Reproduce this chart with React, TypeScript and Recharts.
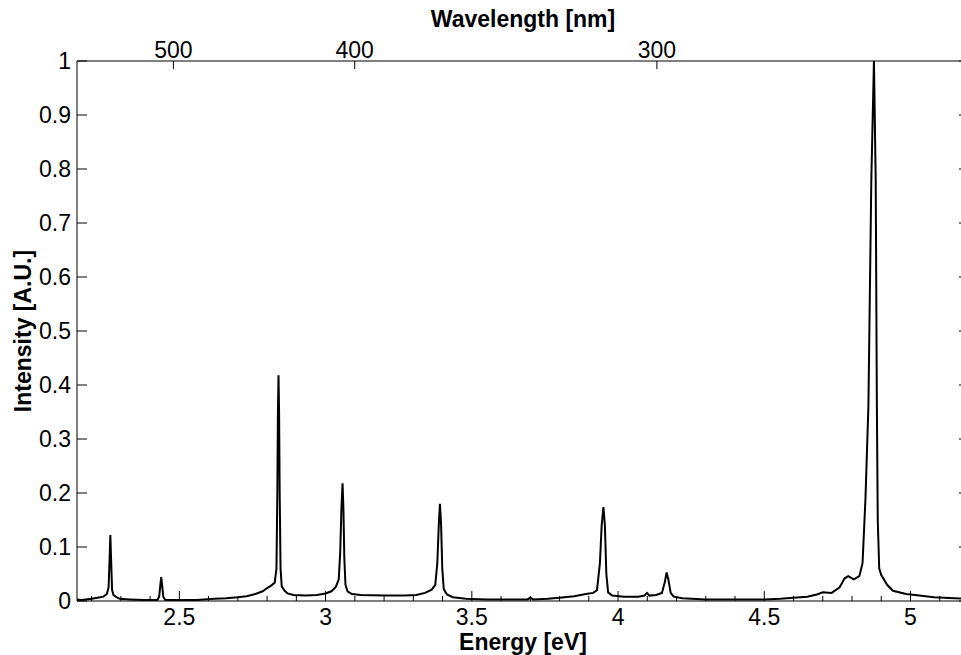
import { LineChart, Line, XAxis, YAxis } from "recharts";

// spectrum: photon energy (eV) and normalised intensity
const energy = [
  2.15, 2.165, 2.18, 2.2, 2.22, 2.24, 2.252, 2.258, 2.261, 2.264, 2.267, 2.27, 2.275, 2.285, 2.296,
  2.33, 2.38, 2.425, 2.431, 2.435, 2.438, 2.441, 2.445, 2.452, 2.5, 2.56, 2.62, 2.66, 2.7, 2.73,
  2.76, 2.785, 2.8, 2.815, 2.826, 2.832, 2.835, 2.837, 2.839, 2.841, 2.843, 2.846, 2.85, 2.86, 2.87,
  2.89, 2.93, 2.97, 3.0, 3.02, 3.035, 3.045, 3.05, 3.054, 3.058, 3.061, 3.064, 3.068, 3.075, 3.09,
  3.12, 3.2, 3.27, 3.31, 3.34, 3.363, 3.375, 3.382, 3.387, 3.391, 3.395, 3.399, 3.404, 3.415, 3.435,
  3.48, 3.55, 3.62, 3.69, 3.7, 3.71, 3.76, 3.8, 3.85, 3.89, 3.915, 3.928, 3.938, 3.944, 3.95,
  3.955, 3.96, 3.966, 3.98, 4.02, 4.07, 4.09, 4.099, 4.107, 4.13, 4.15, 4.16, 4.166, 4.172, 4.18,
  4.19, 4.22, 4.3, 4.4, 4.5, 4.555, 4.6, 4.647, 4.68, 4.7, 4.73, 4.757, 4.775, 4.787, 4.806,
  4.825, 4.836, 4.846, 4.856, 4.866, 4.875, 4.881, 4.885, 4.888, 4.893, 4.9, 4.92, 4.94, 4.985, 5.03,
  5.08, 5.15, 5.2,
];
const intensity = [
  0.003, 0.002, 0.003, 0.004, 0.006, 0.008, 0.013, 0.025, 0.07, 0.122, 0.07, 0.02, 0.011, 0.007, 0.004,
  0.003, 0.002, 0.002, 0.008, 0.03, 0.044, 0.03, 0.008, 0.002, 0.002, 0.002, 0.004, 0.005, 0.007, 0.009,
  0.013, 0.018, 0.024, 0.029, 0.034, 0.06, 0.2, 0.35, 0.418, 0.35, 0.2, 0.06, 0.027, 0.019, 0.014,
  0.011, 0.01, 0.011, 0.014, 0.018, 0.026, 0.04, 0.09, 0.17, 0.218, 0.17, 0.08, 0.03, 0.018, 0.013,
  0.011, 0.01, 0.01, 0.011, 0.015, 0.021, 0.03, 0.07, 0.14, 0.18, 0.14, 0.06, 0.022, 0.012, 0.007,
  0.004, 0.003, 0.003, 0.003, 0.006, 0.003, 0.004, 0.006, 0.009, 0.013, 0.015, 0.02, 0.07, 0.14, 0.174,
  0.14, 0.05, 0.016, 0.01, 0.008, 0.008, 0.01, 0.015, 0.01, 0.011, 0.015, 0.035, 0.053, 0.04, 0.015,
  0.008, 0.005, 0.003, 0.003, 0.003, 0.004, 0.006, 0.008, 0.012, 0.016, 0.015, 0.025, 0.042, 0.046, 0.04,
  0.046, 0.07, 0.19, 0.36, 0.78, 1.0, 0.78, 0.36, 0.15, 0.06, 0.048, 0.03, 0.019, 0.013, 0.01,
  0.007, 0.005, 0.004,
];

const energyTicks = [
  2.2, 2.3, 2.4, 2.5, 2.6, 2.7, 2.8, 2.9, 3, 3.1, 3.2, 3.3, 3.4, 3.5, 3.6, 3.7, 3.8, 3.9, 4,
  4.1, 4.2, 4.3, 4.4, 4.5, 4.6, 4.7, 4.8, 4.9, 5, 5.1,
];
const intensityTicks = [0, 0.1, 0.2, 0.3, 0.4, 0.5, 0.6, 0.7, 0.8, 0.9, 1];
const wavelengthTicks = [500, 400, 300];

const HC = 1239.84;
const E_MIN = 2.15;
const E_MAX = 5.2;

const rows = energy.map((e, i) => ({ e, i: intensity[i] }));

const FONT = "'Liberation Sans', Arial, Helvetica, sans-serif";
const SIZE = 23;

const isMajor = (v: number) => Math.abs(v * 2 - Math.round(v * 2)) < 1e-6;

function BottomTick({ x, y, payload }: any) {
  const major = isMajor(payload.value);
  return (
    <g>
      <line x1={x} y1={y} x2={x} y2={y - (major ? 10 : 5)} stroke="#000" strokeWidth={1} />
      {major && (
        <text x={x} y={y + 24} textAnchor="middle" fontFamily={FONT} fontSize={SIZE} fill="#000">
          {String(Math.round(payload.value * 10) / 10)}
        </text>
      )}
    </g>
  );
}

function TopTick({ x, y, payload }: any) {
  return (
    <g>
      <line x1={x} y1={y} x2={x} y2={y + 8} stroke="#000" strokeWidth={1} />
      <text x={x} y={y - 3} textAnchor="middle" fontFamily={FONT} fontSize={SIZE} fill="#000">
        {Math.round(HC / payload.value)}
      </text>
    </g>
  );
}

function LeftTick({ x, y, payload }: any) {
  return (
    <g>
      <line x1={x} y1={y} x2={x + 10} y2={y} stroke="#000" strokeWidth={1} />
      <text x={x - 6} y={y} dy="0.36em" textAnchor="end" fontFamily={FONT} fontSize={SIZE} fill="#000">
        {String(Math.round(payload.value * 10) / 10)}
      </text>
    </g>
  );
}

function RightTick({ x, y }: any) {
  return <line x1={x} y1={y} x2={x - 10} y2={y} stroke="#000" strokeWidth={1} />;
}

function BottomTitle({ viewBox }: any) {
  const { x, y, width } = viewBox;
  return (
    <text x={x + width / 2} y={y + 49} textAnchor="middle" fontFamily={FONT} fontSize={SIZE} fontWeight="bold" fill="#000">
      Energy [eV]
    </text>
  );
}

function TopTitle({ viewBox }: any) {
  const { x, y, width } = viewBox;
  return (
    <text x={x + width / 2} y={y + 27} textAnchor="middle" fontFamily={FONT} fontSize={SIZE} fontWeight="bold" fill="#000">
      Wavelength [nm]
    </text>
  );
}

function LeftTitle({ viewBox }: any) {
  const { x, y, height } = viewBox;
  const cx = x + 23;
  const cy = y + height / 2;
  return (
    <text
      x={cx}
      y={cy}
      dy="0.36em"
      transform={`rotate(-90 ${cx} ${cy})`}
      textAnchor="middle"
      fontFamily={FONT}
      fontSize={SIZE}
      fontWeight="bold"
      fill="#000"
    >
      Intensity [A.U.]
    </text>
  );
}

export default function App() {
  return (
    <div style={{ position: "absolute", left: 0, top: 0, width: 961, height: 655, overflow: "hidden", background: "#fff" }}>
      <LineChart width={975} height={655} data={rows} margin={{ top: 0, right: 0, bottom: 0, left: 0 }}>
        <XAxis
          xAxisId="bottom"
          type="number"
          dataKey="e"
          domain={[E_MIN, E_MAX]}
          allowDataOverflow
          ticks={energyTicks}
          interval={0}
          height={54}
          tickSize={0}
          tickMargin={0}
          tickLine={false}
          axisLine={{ stroke: "#000", strokeWidth: 1 }}
          tick={<BottomTick />}
          label={<BottomTitle />}
        />
        <XAxis
          xAxisId="top"
          orientation="top"
          type="number"
          dataKey="e"
          domain={[E_MIN, E_MAX]}
          allowDataOverflow
          ticks={wavelengthTicks.map((w) => HC / w)}
          interval={0}
          height={61}
          tickSize={0}
          tickMargin={0}
          tickLine={false}
          axisLine={{ stroke: "#000", strokeWidth: 1 }}
          tick={<TopTick />}
          label={<TopTitle />}
        />
        <YAxis
          yAxisId="left"
          type="number"
          domain={[0, 1]}
          allowDataOverflow
          ticks={intensityTicks}
          interval={0}
          width={77}
          tickSize={0}
          tickMargin={0}
          tickLine={false}
          axisLine={{ stroke: "#000", strokeWidth: 1 }}
          tick={<LeftTick />}
          label={<LeftTitle />}
        />
        <YAxis
          yAxisId="right"
          orientation="right"
          type="number"
          domain={[0, 1]}
          allowDataOverflow
          ticks={intensityTicks}
          interval={0}
          width={6}
          tickSize={0}
          tickMargin={0}
          tickLine={false}
          axisLine={{ stroke: "#000", strokeWidth: 1 }}
          tick={<RightTick />}
        />
        <Line
          xAxisId="bottom"
          yAxisId="left"
          type="linear"
          dataKey="i"
          stroke="#000"
          strokeWidth={2}
          dot={false}
          activeDot={false}
          isAnimationActive={false}
        />
        <Line
          xAxisId="top"
          yAxisId="right"
          type="linear"
          dataKey="i"
          stroke="none"
          dot={false}
          activeDot={false}
          isAnimationActive={false}
        />
      </LineChart>
    </div>
  );
}
